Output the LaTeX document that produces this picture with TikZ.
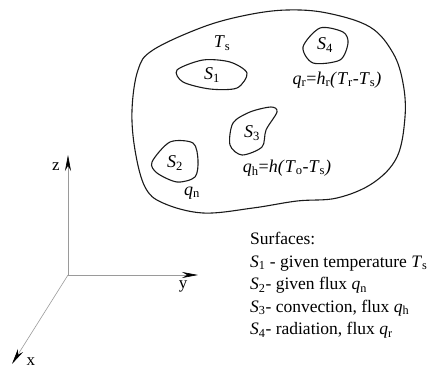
\documentclass[tikz,border=0pt]{standalone}
\usepackage{fontspec}
\setmainfont{Liberation Serif}
\usetikzlibrary{arrows.meta}
\definecolor{axis}{HTML}{9A9A9A}
\definecolor{ink}{HTML}{1A1A1A}
\newcommand{\vsub}[2]{\textit{#1}\textsubscript{#2}}
\tikzset{
  blob/.style={draw=ink, line width=1.1pt},
  ax/.style={draw=axis, line width=0.6pt, -{Stealth[length=16pt, width=6pt, color=black]}},
  lbl/.style={font=\fontsize{18}{21}\selectfont, inner sep=0pt},
  axlbl/.style={font=\fontsize{17}{20}\selectfont, inner sep=0pt},
  legend/.style={font=\fontsize{17.5}{22.5}\selectfont, align=left, inner sep=0pt, anchor=north west}
}
\begin{document}
\begin{tikzpicture}[x=1pt,y=-1pt]
  \useasboundingbox (0,0) rectangle (429,369);

  % body and its surfaces
  \draw[blob] plot[smooth cycle, tension=0.6] coordinates {
    (153,50) (203,27) (247,15) (287,10) (327,13) (370,27) (393,53) (403,83)
    (405,117) (397,157) (373,183) (337,198) (297,201) (253,208) (203,213)
    (163,203) (145,187) (135,150) (132,110) (138,70)};
  \draw[blob] plot[smooth cycle] coordinates {
    (177,70) (203,60) (230,62) (247,73) (237,88) (210,89) (183,82)};
  \draw[blob] plot[smooth cycle] coordinates {
    (152,162) (170,142) (193,143) (198,160) (195,177) (177,182) (157,173)};
  \draw[blob] plot[smooth cycle] coordinates {
    (233,123) (250,112) (271,107) (277,112) (266,130) (262,147) (242,155) (230,145)};
  \draw[blob] plot[smooth cycle] coordinates {
    (303,47) (320,28) (343,32) (348,43) (340,60) (313,63)};

  \node[lbl] (s1) at (212,75) {\vsub{S}{1}};
  \node[lbl] (s2) at (175,163) {\vsub{S}{2}};
  \node[lbl] (s3) at (252,133) {\vsub{S}{3}};
  \node[lbl] (s4) at (325,45) {\vsub{S}{4}};
  \node[lbl] (ts) at (222,43) {\vsub{T}{s}};
  \node[lbl] (qr) at (337,80) {\vsub{q}{r}=\vsub{h}{r}\textit{(}\vsub{T}{r}-\vsub{T}{s}\textit{)}};
  \node[lbl] (qh) at (287,168) {\vsub{q}{h}=\textit{h(}\vsub{T}{o}-\vsub{T}{s}\textit{)}};
  \node[lbl] (qn) at (192,193) {\vsub{q}{n}};

  % axes
  \coordinate (o) at (68,275);
  \coordinate (zt) at (68,155);
  \coordinate (yt) at (198,275);
  \coordinate (xt) at (12,364);
  \draw[ax] (o) -- (zt);
  \draw[ax] (o) -- (yt);
  \draw[ax] (o) -- (xt);
  \node[axlbl] (zl) at (56,167) {z};
  \node[axlbl] (yl) at (183,286) {y};
  \node[axlbl] (xl) at (31,362) {x};

  \node[legend] (key) at (250,232) {Surfaces:\\
    \vsub{S}{1} - given temperature \vsub{T}{s}\\
    \vsub{S}{2}- given flux \vsub{q}{n}\\
    \vsub{S}{3}- convection, flux \vsub{q}{h}\\
    \vsub{S}{4}- radiation, flux \vsub{q}{r}};
\end{tikzpicture}
\end{document}
